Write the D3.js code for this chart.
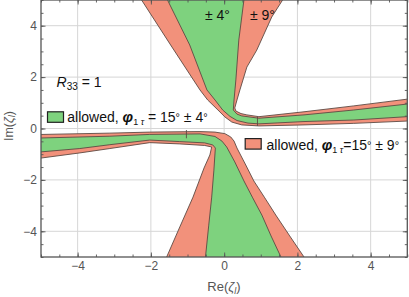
<!DOCTYPE html>
<html>
<head>
<meta charset="utf-8">
<script src="https://cdn.jsdelivr.net/npm/d3@7"></script>
<style>
body { margin: 0; background: #fff; }
svg { display: block; font-family: "Liberation Sans", Arial, Helvetica, sans-serif; }
</style>
</head>
<body>
<svg id="chart" width="409" height="297"></svg>
<script>
// axis setup
var xDomain = [-5, 5];
var yDomain = [-5, 5];
var majorTicks = [-4, -2, 0, 2, 4];
var minorTicks = d3.range(-5, 5.001, 0.5);

// allowed regions, [Re, Im]
// upper branch, +-9 deg (outer) and +-4 deg (inner)
var upperRed = [
  [-2.39, 5.3], [-1.48, 3.29], [-0.66, 1.50], [-0.45, 1.11], [-0.17, 0.72],
  [0.02, 0.45], [0.21, 0.25], [0.48, 0.14], [0.95, 0.10], [2.18, 0.14],
  [3.54, 0.20], [4.99, 0.29], [5.3, 0.31],
  [5.3, 1.19], [4.99, 1.14], [3.54, 0.88], [2.18, 0.65], [0.95, 0.46],
  [0.62, 0.53], [0.46, 0.58], [0.32, 0.68], [0.29, 0.80], [0.35, 1.11],
  [0.43, 1.50], [0.62, 2.39], [0.89, 3.05], [1.30, 4.34], [1.73, 5.3]
];
var upperGreen = [
  [-1.65, 5.3], [-0.94, 3.25], [-0.47, 1.50], [-0.25, 1.11], [-0.04, 0.72],
  [0.16, 0.47], [0.35, 0.31], [0.65, 0.21], [0.95, 0.18], [2.18, 0.27],
  [3.54, 0.33], [4.99, 0.46], [5.3, 0.48],
  [5.3, 1.00], [4.99, 0.95], [3.54, 0.72], [2.18, 0.53], [0.95, 0.40],
  [0.48, 0.49], [0.35, 0.56], [0.25, 0.72], [0.27, 1.11], [0.32, 1.89],
  [0.40, 3.44], [0.54, 5.0], [0.57, 5.3]
];
// lower branch
var lowerRed = [
  [-5.3, -0.24], [-3.12, -0.18], [-2.03, -0.14], [-0.66, -0.12], [-0.25, -0.14],
  [0.02, -0.20], [0.18, -0.33], [0.27, -0.49], [0.35, -0.76], [0.59, -1.42],
  [0.81, -2.04], [1.11, -2.70], [1.41, -3.37], [1.79, -4.18], [2.18, -5.0], [2.32, -5.3],
  [-1.67, -5.3], [-1.57, -5.0], [-1.21, -3.83], [-0.85, -2.67], [-0.55, -1.54],
  [-0.39, -1.03], [-0.34, -0.72], [-0.53, -0.66], [-1.21, -0.60], [-2.03, -0.55],
  [-3.12, -0.78], [-3.94, -0.95], [-5.0, -1.15], [-5.3, -1.2]
];
var lowerGreen = [
  [-5.3, -0.38], [-3.12, -0.30], [-2.03, -0.23], [-0.66, -0.21], [-0.25, -0.31],
  [-0.06, -0.49], [0.07, -0.72], [0.29, -1.30], [0.54, -2.04], [0.78, -2.70],
  [1.03, -3.37], [1.28, -4.18], [1.55, -5.0], [1.64, -5.3],
  [-0.53, -5.3], [-0.51, -5.0], [-0.42, -3.76], [-0.34, -2.67], [-0.28, -1.62],
  [-0.24, -0.76], [-0.31, -0.64], [-0.53, -0.56], [-1.21, -0.51], [-2.03, -0.45],
  [-3.12, -0.63], [-3.94, -0.78], [-5.0, -0.91], [-5.3, -0.94]
];
// small contour seams crossing the bands
var seams = [
  [[0.91, 0.46], [0.91, 0.10]],
  [[-1.03, -0.06], [-1.03, -0.38]]
];

var width = 409, height = 297;
var margin = { left: 41, right: 1.7, top: 0, bottom: 40 };

var svg = d3.select("#chart");

var x = d3.scaleLinear().domain(xDomain).range([margin.left, width - margin.right]);
var y = d3.scaleLinear().domain(yDomain).range([height - margin.bottom, margin.top]);

var red = "#f2917b", green = "#7ed27e", edge = "#5e4a43";

svg.append("defs").append("clipPath").attr("id", "plotclip")
  .append("rect")
  .attr("x", x(-5)).attr("y", y(5))
  .attr("width", x(5) - x(-5)).attr("height", y(-5) - y(5));

// grid
var grid = svg.append("g").attr("class", "grid");
grid.selectAll(".gx").data(majorTicks).enter().append("line")
  .attr("x1", function(d) { return x(d); }).attr("x2", function(d) { return x(d); })
  .attr("y1", y(5)).attr("y2", y(-5))
  .attr("stroke", "#d6d6d6").attr("stroke-width", 1);
grid.selectAll(".gy").data(majorTicks).enter().append("line")
  .attr("y1", function(d) { return y(d); }).attr("y2", function(d) { return y(d); })
  .attr("x1", x(-5)).attr("x2", x(5))
  .attr("stroke", "#d6d6d6").attr("stroke-width", 1);

// regions
var line = d3.line()
  .x(function(d) { return x(d[0]); })
  .y(function(d) { return y(d[1]); });

var regions = svg.append("g").attr("clip-path", "url(#plotclip)");
var shapes = [
  { pts: upperRed, fill: red },
  { pts: upperGreen, fill: green },
  { pts: lowerRed, fill: red },
  { pts: lowerGreen, fill: green }
];
regions.selectAll("path").data(shapes).enter().append("path")
  .attr("d", function(d) { return line(d.pts) + "Z"; })
  .attr("fill", function(d) { return d.fill; })
  .attr("stroke", edge)
  .attr("stroke-width", 0.9)
  .attr("stroke-linejoin", "round");
regions.selectAll(".seam").data(seams).enter().append("path")
  .attr("class", "seam")
  .attr("d", function(d) { return line(d); })
  .attr("stroke", edge).attr("stroke-width", 0.9).attr("fill", "none");

// frame axes, ticks pointing inward
function styleAxis(g) {
  g.select(".domain").remove();
  g.selectAll(".tick line").attr("stroke", "#555").attr("stroke-width", 0.9);
  g.selectAll("text").attr("fill", "#555").style("font-size", "12px")
    .style("font-family", "\"Liberation Sans\", Arial, sans-serif");
}
var fmt = function(d) { return d3.format("")(d); };

svg.append("g").attr("transform", "translate(0," + y(-5) + ")")
  .call(d3.axisBottom(x).tickValues(minorTicks).tickSize(-2.5).tickFormat(""))
  .call(styleAxis);
svg.append("g").attr("transform", "translate(0," + y(-5) + ")")
  .call(d3.axisBottom(x).tickValues(majorTicks).tickSize(-4.5).tickPadding(4).tickFormat(fmt))
  .call(styleAxis);
svg.append("g").attr("transform", "translate(0," + y(5) + ")")
  .call(d3.axisTop(x).tickValues(minorTicks).tickSize(-2.5).tickFormat(""))
  .call(styleAxis);
svg.append("g").attr("transform", "translate(0," + y(5) + ")")
  .call(d3.axisTop(x).tickValues(majorTicks).tickSize(-4.5).tickFormat(""))
  .call(styleAxis);
svg.append("g").attr("transform", "translate(" + x(-5) + ",0)")
  .call(d3.axisLeft(y).tickValues(minorTicks).tickSize(-2.5).tickFormat(""))
  .call(styleAxis);
svg.append("g").attr("transform", "translate(" + x(-5) + ",0)")
  .call(d3.axisLeft(y).tickValues(majorTicks).tickSize(-4.5).tickPadding(4).tickFormat(fmt))
  .call(styleAxis);
svg.append("g").attr("transform", "translate(" + x(5) + ",0)")
  .call(d3.axisRight(y).tickValues(minorTicks).tickSize(-2.5).tickFormat(""))
  .call(styleAxis);
svg.append("g").attr("transform", "translate(" + x(5) + ",0)")
  .call(d3.axisRight(y).tickValues(majorTicks).tickSize(-4.5).tickFormat(""))
  .call(styleAxis);

svg.append("rect")
  .attr("x", x(-5)).attr("y", y(5))
  .attr("width", x(5) - x(-5)).attr("height", y(-5) - y(5))
  .attr("fill", "none").attr("stroke", "#555").attr("stroke-width", 1.3);

// axis labels
var xl = svg.append("text").attr("x", 224).attr("y", 291)
  .attr("text-anchor", "middle").attr("fill", "#555").style("font-size", "13px");
xl.append("tspan").text("Re(");
xl.append("tspan").attr("font-style", "italic").text("ζ");
xl.append("tspan").attr("font-style", "italic").attr("font-size", "9px").attr("dy", 3).text("l");
xl.append("tspan").attr("dy", -3).text(")");

var yl = svg.append("text").attr("transform", "translate(12.5,126) rotate(-90)")
  .attr("text-anchor", "middle").attr("fill", "#555").style("font-size", "12.5px");
yl.append("tspan").text("Im(");
yl.append("tspan").attr("font-style", "italic").text("ζ");
yl.append("tspan").attr("font-style", "italic").attr("font-size", "9px").attr("dy", 2.5).text("l");
yl.append("tspan").attr("dy", -2.5).text(")");

// annotations
var ann = svg.append("g").style("font-size", "14px").attr("fill", "#111");
ann.append("text").attr("x", 205).attr("y", 19.5).text("± 4°");
ann.append("text").attr("x", 250).attr("y", 19.5).text("± 9°");

var r = ann.append("text").attr("x", 56.5).attr("y", 86.5);
r.append("tspan").attr("font-style", "italic").text("R");
r.append("tspan").attr("font-size", "10px").attr("dy", 3).text("33");
r.append("tspan").attr("dy", -3).text(" = 1");

var legend = [
  { fill: green, bx: 47.5, by: 111.8, tx: 67.3, ty: 121.7, eq: " = 15", pm: "4" },
  { fill: red, bx: 245.2, by: 138.6, tx: 266.5, ty: 150.2, eq: "=15", pm: "9" }
];
legend.forEach(function(l) {
  ann.append("rect").attr("x", l.bx).attr("y", l.by).attr("width", 16).attr("height", 10.5)
    .attr("fill", l.fill).attr("stroke", "#222").attr("stroke-width", 1.2);
  var t = ann.append("text").attr("x", l.tx).attr("y", l.ty);
  t.append("tspan").text("allowed, ");
  t.append("tspan").attr("font-style", "italic").attr("font-weight", "bold").attr("font-size", "15px").text("φ");
  t.append("tspan").attr("font-size", "9px").attr("dy", 3).text("1 ");
  t.append("tspan").attr("font-size", "9px").attr("font-style", "italic").text("τ");
  t.append("tspan").attr("dy", -3).text(l.eq);
  t.append("tspan").attr("font-size", "11px").attr("dy", -1).text("°");
  t.append("tspan").attr("dy", 1).text(" ± " + l.pm);
  t.append("tspan").attr("font-size", "11px").attr("dy", -1).text("°");
});
</script>
</body>
</html>
